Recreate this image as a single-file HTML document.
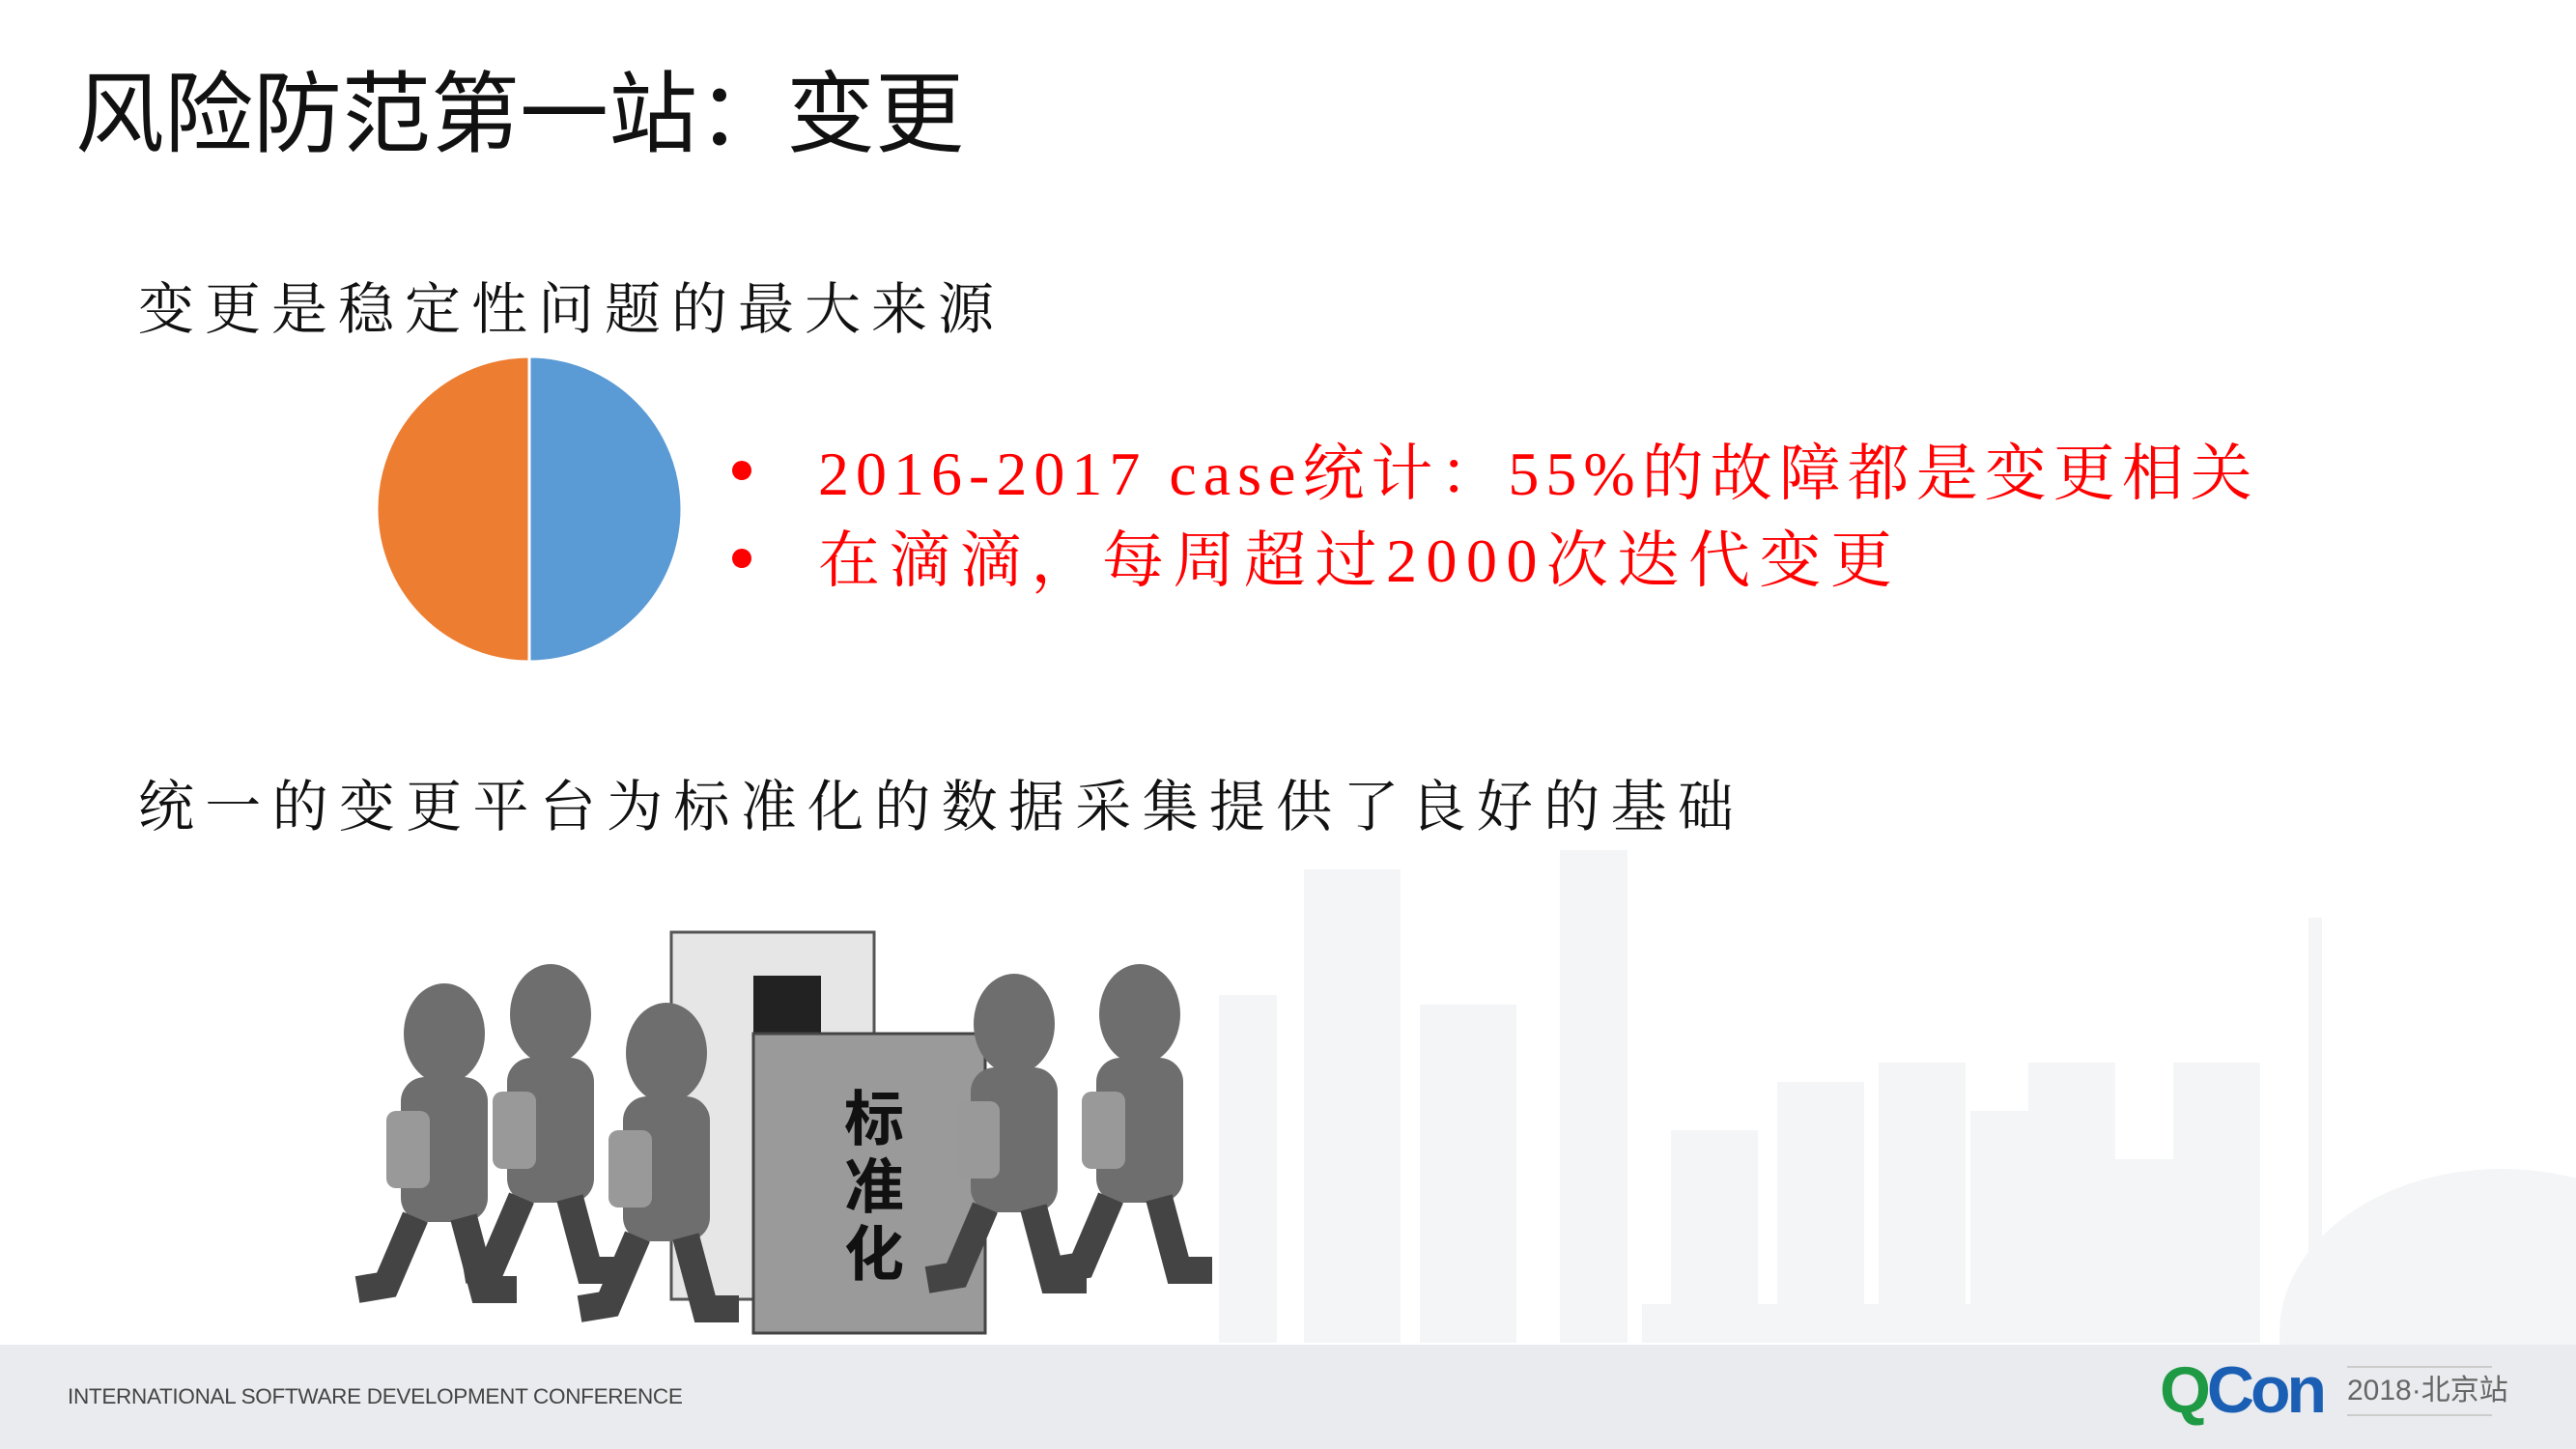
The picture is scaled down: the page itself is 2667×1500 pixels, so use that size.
<!DOCTYPE html>
<html><head><meta charset="utf-8"><style>
body{margin:0;width:2667px;height:1500px;overflow:hidden;background:#fff;position:relative;font-family:"Liberation Sans","Noto Sans CJK SC",sans-serif}
.a{position:absolute;white-space:nowrap}
.serif{font-family:"Liberation Serif","Noto Serif CJK SC",serif}
</style></head><body>
<div class="a" style="left:78px;top:44px;font-size:92px;color:#111">风险防范第一站：变更</div>
<div class="a serif" style="left:143px;top:273px;font-size:58px;letter-spacing:11px;color:#111">变更是稳定性问题的最大来源</div>
<svg class="a" style="left:0;top:0" width="2667" height="1500">
<g id="sky" fill="#f4f5f7">
<rect x="1262" y="1030" width="60" height="360"/><rect x="1350" y="900" width="100" height="490"/><rect x="1470" y="1040" width="100" height="350"/>
<rect x="1615" y="880" width="70" height="510"/><rect x="1730" y="1170" width="90" height="220"/><rect x="1840" y="1120" width="90" height="270"/>
<rect x="1945" y="1100" width="90" height="290"/><rect x="2040" y="1150" width="90" height="240"/><rect x="2100" y="1100" width="90" height="290"/>
<rect x="2160" y="1200" width="90" height="190"/><rect x="2250" y="1100" width="90" height="290"/><rect x="2390" y="950" width="14" height="440"/>
<ellipse cx="2590" cy="1380" rx="230" ry="170"/><rect x="1700" y="1350" width="600" height="40"/>
</g>
<g id="pie"></g>
<g fill="#6e6e6e">
<rect x="695" y="965" width="210" height="380" fill="#e6e6e6" stroke="#555" stroke-width="3"/>
<rect x="780" y="1010" width="70" height="90" fill="#222"/>
<rect x="780" y="1070" width="240" height="310" fill="#9a9a9a" stroke="#444" stroke-width="3"/>
<text x="905" y="1180" font-size="62" font-family="Noto Sans CJK SC" font-weight="bold" fill="#111" text-anchor="middle">标</text>
<text x="905" y="1250" font-size="62" font-family="Noto Sans CJK SC" font-weight="bold" fill="#111" text-anchor="middle">准</text>
<text x="905" y="1320" font-size="62" font-family="Noto Sans CJK SC" font-weight="bold" fill="#111" text-anchor="middle">化</text>
<g id="people"></g>
</g>
</svg>
<div class="a" style="left:758px;top:477px;width:20px;height:20px;border-radius:50%;background:#f00"></div>
<div class="a serif" style="left:847px;top:439px;font-size:64px;color:#f00;letter-spacing:7px">2016-2017 case统计：55%的故障都是变更相关</div>
<div class="a" style="left:758px;top:568px;width:20px;height:20px;border-radius:50%;background:#f00"></div>
<div class="a serif" style="left:847px;top:529px;font-size:64px;color:#f00;letter-spacing:9.5px">在滴滴，每周超过2000次迭代变更</div>
<div class="a serif" style="left:143px;top:788px;font-size:58px;letter-spacing:11.3px;color:#111">统一的变更平台为标准化的数据采集提供了良好的基础</div>
<div class="a" style="left:0;top:1392px;width:2667px;height:108px;background:#e9ebee"></div>
<div class="a" style="left:70px;top:1433px;font-size:22.5px;color:#444;letter-spacing:-0.3px">INTERNATIONAL SOFTWARE DEVELOPMENT CONFERENCE</div>
<div class="a" style="left:2236px;top:1400px;font-size:68px;font-weight:bold;letter-spacing:-4px"><span style="color:#1f9a44">Q</span><span style="color:#1b5fb5">Con</span></div>
<div class="a" style="left:2430px;top:1414px;width:150px;height:48px;border-top:2px solid #ccc;border-bottom:2px solid #ccc;font-size:30px;color:#666;line-height:48px">2018·北京站</div>
<script>
const sliceLabels=["变更相关","其他"];
const sliceValues=[50,50];
const sliceColors=["#5b9bd5","#ed7d31"];
const ns="http://www.w3.org/2000/svg";
const cx=548,cy=527,r=158;
const pie=document.getElementById('pie');
const total=sliceValues.reduce((a,b)=>a+b,0);
let ang=-Math.PI/2;
sliceValues.forEach((v,i)=>{
  const a2=ang+v/total*2*Math.PI;
  const large=(a2-ang)>Math.PI?1:0;
  const p=document.createElementNS(ns,'path');
  p.setAttribute('d',`M${cx},${cy} L${cx+r*Math.cos(ang)},${cy+r*Math.sin(ang)} A${r},${r} 0 ${large} 1 ${cx+r*Math.cos(a2)},${cy+r*Math.sin(a2)} Z`);
  p.setAttribute('fill',sliceColors[i]);p.setAttribute('stroke','#fff');p.setAttribute('stroke-width','3');
  
  
  pie.appendChild(p);ang=a2;
});
const pg=document.getElementById('people');
[[460,1130],[570,1110],[690,1150],[1050,1120],[1180,1110]].forEach(([x,y])=>{
  const g=document.createElementNS(ns,'g');
  g.innerHTML=`<ellipse cx="${x}" cy="${y-60}" rx="42" ry="52"/><rect x="${x-45}" y="${y-15}" width="90" height="150" rx="25"/><rect x="${x-60}" y="${y+20}" width="45" height="80" rx="10" fill="#999"/><path d="M${x-30} ${y+130} L${x-60} ${y+200} L${x-90} ${y+205} M${x+20} ${y+130} L${x+40} ${y+205} L${x+75} ${y+205}" stroke="#444" stroke-width="28" fill="none"/>`;
  
  
  pg.appendChild(g);
});
</script>
</body></html>
